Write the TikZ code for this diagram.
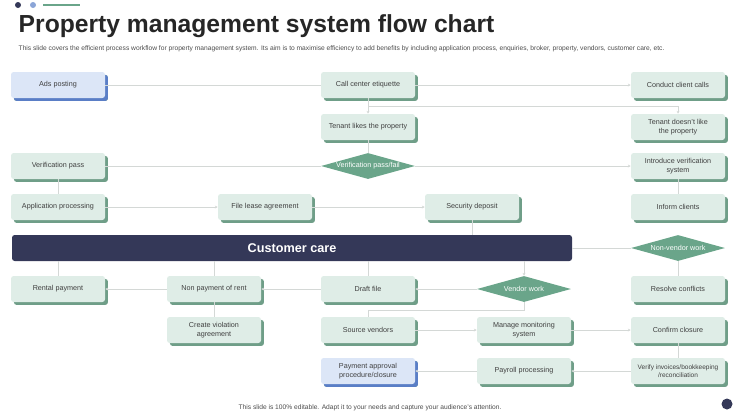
\documentclass[tikz,border=0pt]{standalone}
\usepackage{fontspec}
\setmainfont{Liberation Sans}
\usetikzlibrary{shapes.geometric,arrows.meta,shadows}
\definecolor{boxf}{HTML}{DFEDE7}
\definecolor{boxs}{HTML}{6F9E88}
\definecolor{bluef}{HTML}{DCE6F7}
\definecolor{blues}{HTML}{5A7EC6}
\definecolor{dia}{HTML}{6AA58A}
\definecolor{navy}{HTML}{343858}
\definecolor{ln}{HTML}{D4D8D6}
\tikzset{
 bx/.style={rectangle,rounded corners=2pt,fill=boxf,minimum width=94*0.75pt,minimum height=26*0.75pt,align=center,font=\fontsize{5.4}{6.2}\selectfont,text=black!75,
   drop shadow={shadow xshift=2.2pt,shadow yshift=-2.2pt,fill=boxs,opacity=1}},
 bb/.style={bx,fill=bluef,drop shadow={shadow xshift=2.2pt,shadow yshift=-2.2pt,fill=blues,opacity=1}},
 dm/.style={diamond,aspect=3.6,fill=dia,inner sep=0pt,minimum width=94*0.75pt,minimum height=26*0.75pt,text=white,font=\fontsize{5.4}{6.2}\selectfont},
 cn/.style={draw=ln,line width=0.6pt,-{Stealth[length=2.2pt,width=2.2pt]}},
 cl/.style={draw=ln,line width=0.6pt},
}
\begin{document}
\begin{tikzpicture}[x=0.75pt,y=-0.75pt]
\useasboundingbox (0,0) rectangle (739,415);
% decor
\fill[navy] (18,5) circle (3);
\fill[blues!70] (33,5) circle (3);
\draw[dia,line width=1.2pt] (43,5) -- (80,5);
\node[anchor=west,font=\bfseries\fontsize{18.5}{20}\selectfont,text=black!85] (title) at (14,26) {Property management system flow chart};
\node[anchor=west,font=\fontsize{5}{6}\selectfont,text=black!70] (sub) at (14,49) {This slide covers the efficient process workflow for property management system. Its aim is to maximise efficiency to add benefits by including application process, enquiries, broker, property, vendors, customer care, etc.};
\node[font=\fontsize{5}{6}\selectfont,text=black!70] (foot) at (370,408) {This slide is 100\% editable. Adapt it to your needs and capture your audience's attention.};
\fill[navy] (727,404) circle (5.5);
% nodes
\node[bb] (ads) at (58,85) {Ads posting};
\node[bx] (cce) at (368,85) {Call center etiquette};
\node[bx] (ccc) at (678,85) {Conduct client calls};
\node[bx] (tl) at (368,127) {Tenant likes the property};
\node[bx] (tdl) at (678,127) {Tenant doesn't like\\the property};
\node[dm] (vpf) at (368,166) {Verification pass/fail};
\node[bx] (vp) at (58,166) {Verification pass};
\node[bx] (ivs) at (678,166) {Introduce verification\\system};
\node[bx] (ap) at (58,207) {Application processing};
\node[bx] (fla) at (265,207) {File lease agreement};
\node[bx] (sd) at (472,207) {Security deposit};
\node[bx] (ic) at (678,207) {Inform clients};
\node[rectangle,rounded corners=2pt,fill=navy,minimum width=560*0.75pt,minimum height=26*0.75pt,text=white,font=\bfseries\fontsize{9.5}{11}\selectfont] (cc) at (292,248) {Customer care};
\node[dm] (nvw) at (678,248) {Non-vendor work};
\node[bx] (rp) at (58,289) {Rental payment};
\node[bx] (npr) at (214,289) {Non payment of rent};
\node[bx] (df) at (368,289) {Draft file};
\node[dm] (vw) at (524,289) {Vendor work};
\node[bx] (rc) at (678,289) {Resolve conflicts};
\node[bx] (cva) at (214,330) {Create violation\\agreement};
\node[bx] (sv) at (368,330) {Source vendors};
\node[bx] (mms) at (524,330) {Manage monitoring\\system};
\node[bx] (ccl) at (678,330) {Confirm closure};
\node[bb] (pap) at (368,371) {Payment approval\\procedure/closure};
\node[bx] (pp) at (524,371) {Payroll processing};
\node[bx,font=\fontsize{4.9}{6}\selectfont,inner xsep=1pt] (vib) at (678,371) {Verify invoices/bookkeeping\\/reconciliation};
% connectors
\draw[cl] (ads) -- (cce);
\draw[cn] (cce) -- (ccc);
\coordinate (j1) at (368,106);
\coordinate (j2) at (678,106);
\draw[cl] (cce.south) -- (j1);
\draw[cl] (j1) -- (j2);
\draw[cn] (j1) -- (tl);
\draw[cn] (j2) -- (tdl);
\draw[cl] (tl) -- (vpf);
\draw[cl] (vpf) -- (vp);
\draw[cn] (vpf) -- (ivs);
\draw[cl] (vp) -- (ap);
\draw[cn] (ap) -- (fla);
\draw[cn] (fla) -- (sd);
\draw[cl] (sd) -- (sd|-cc.north);
\draw[cl] (ivs) -- (ic);
\draw[cl] (cc) -- (nvw);
\draw[cl] (nvw) -- (rc);
\draw[cl] (rp|-cc.south) -- (rp);
\draw[cl] (npr|-cc.south) -- (npr);
\draw[cl] (df|-cc.south) -- (df);
\draw[cn] (vw|-cc.south) -- (vw);
\draw[cn] (vw) -- (df);
\draw[cn] (df) -- (npr);
\draw[cn] (npr) -- (rp);
\draw[cl] (npr) -- (cva);
\coordinate (j3) at (524,310);
\coordinate (j4) at (368,310);
\draw[cl] (vw.south) -- (j3) -- (j4) -- (sv);
\draw[cn] (sv) -- (mms);
\draw[cn] (mms) -- (ccl);
\draw[cl] (ccl) -- (vib);
\draw[cn] (vib) -- (pp);
\draw[cn] (pp) -- (pap);
\end{tikzpicture}
\end{document}
